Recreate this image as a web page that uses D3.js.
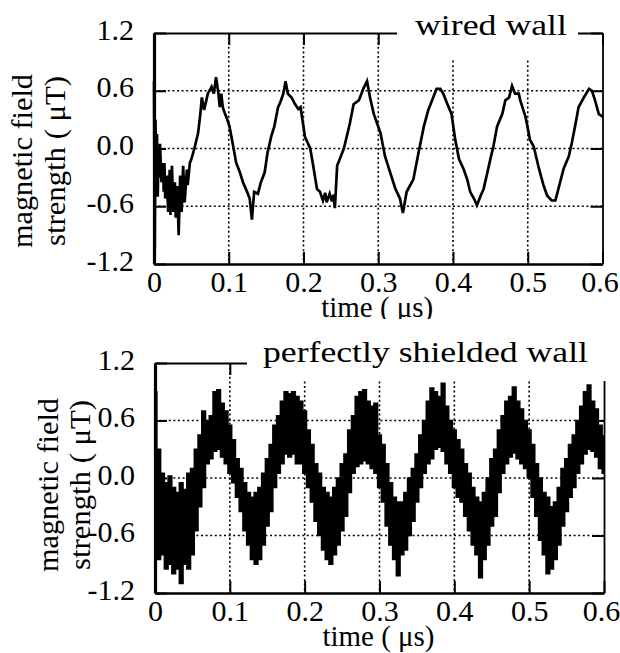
<!DOCTYPE html>
<html>
<head>
<meta charset="utf-8">
<script src="https://cdn.jsdelivr.net/npm/d3@7"></script>
<style>
  body { margin: 0; background: #fff; }
  svg { display: block; }
  text { font-family: "Liberation Serif", "Times New Roman", Times, serif; }
</style>
</head>
<body>
<div id="chart"></div>
<script>
// axis ticks
var xTicks = [0, 0.1, 0.2, 0.3, 0.4, 0.5, 0.6];
var xTickLabels = ["0", "0.1", "0.2", "0.3", "0.4", "0.5", "0.6"];
var yTicks = [-1.2, -0.6, 0, 0.6, 1.2];
var yTickLabels = ["-1.2", "-0.6", "0.0", "0.6", "1.2"];
var panelTitles = ["wired wall", "perfectly shielded wall"];
var yLabelLines = ["magnetic field", "strength ( \u03bcT)"];
var xLabel = "time ( \u03bcs)";

// wired wall trace (time in us, field in uT)
var wiredT = [0, 0.001, 0.002, 0.003, 0.004, 0.005, 0.006, 0.007, 0.008,
  0.010, 0.012, 0.013, 0.014, 0.015, 0.017, 0.019, 0.021, 0.022, 0.024,
  0.026, 0.028, 0.029, 0.031, 0.033, 0.035, 0.037, 0.039, 0.041, 0.044,
  0.045, 0.048, 0.050, 0.054, 0.059, 0.062, 0.064, 0.067, 0.070, 0.072,
  0.077, 0.080, 0.083, 0.086, 0.088, 0.090, 0.092, 0.095, 0.098, 0.101,
  0.106, 0.110, 0.115, 0.119, 0.124, 0.128, 0.131, 0.134, 0.139, 0.143,
  0.148, 0.152, 0.157, 0.161, 0.166, 0.169, 0.173, 0.176, 0.179, 0.184,
  0.188, 0.193,
  0.196, 0.202, 0.209, 0.213, 0.218, 0.222, 0.226, 0.229, 0.231, 0.235,
  0.238, 0.240, 0.242, 0.245, 0.249, 0.254, 0.262, 0.267, 0.274, 0.280,
  0.285, 0.289, 0.294, 0.303, 0.309, 0.316, 0.323, 0.329, 0.333, 0.338,
  0.347, 0.354, 0.361, 0.367, 0.372, 0.378, 0.383, 0.387, 0.392, 0.398,
  0.403, 0.408, 0.414, 0.419, 0.423, 0.428, 0.432, 0.437, 0.441, 0.446,
  0.450, 0.454, 0.459, 0.466, 0.470, 0.475, 0.479, 0.483, 0.488, 0.490,
  0.497, 0.503, 0.508, 0.515, 0.521, 0.526, 0.532, 0.537, 0.541, 0.548,
  0.555, 0.559, 0.564, 0.568, 0.575, 0.582, 0.586, 0.590, 0.595, 0.600];
var wiredV = [0.70, -1.05, 0.30, -0.40, 0.15, -0.50, -0.05, -0.30, 0.05,
  -0.35, -0.15, -0.45, -0.15, -0.52, -0.28, -0.66, -0.22, -0.69, -0.18,
  -0.66, -0.35, -0.72, -0.39, -0.90, -0.28, -0.66, -0.18, -0.56, -0.22,
  -0.38, -0.15, -0.11, 0.00, 0.16, 0.36, 0.53, 0.40, 0.50, 0.57,
  0.64, 0.57, 0.74, 0.58, 0.43, 0.57, 0.43, 0.36, 0.30, 0.23,
  0.02, -0.15, -0.25, -0.35, -0.44, -0.52, -0.74, -0.45, -0.47, -0.35,
  -0.25, -0.04, 0.13, 0.23, 0.43, 0.48, 0.57, 0.70, 0.57, 0.53,
  0.47, 0.41,
  0.43, 0.12, 0.00, -0.18, -0.42, -0.45, -0.54, -0.46, -0.56, -0.47,
  -0.55, -0.48, -0.62, -0.18, -0.10, 0.00, 0.26, 0.46, 0.50, 0.62,
  0.70, 0.53, 0.36, 0.16, -0.08, -0.25, -0.42, -0.52, -0.67, -0.45,
  -0.32, -0.04, 0.23, 0.40, 0.50, 0.62, 0.62, 0.57, 0.47, 0.36,
  0.09, -0.11, -0.21, -0.32, -0.45, -0.52, -0.59, -0.49, -0.42, -0.25,
  -0.11, 0.02, 0.23, 0.36, 0.50, 0.53, 0.65, 0.57, 0.57, 0.50,
  0.33, 0.09, 0.02, -0.21, -0.38, -0.49, -0.54, -0.54, -0.42, -0.21,
  -0.08, 0.06, 0.26, 0.43, 0.53, 0.62, 0.60, 0.50, 0.36, 0.33];

// perfectly shielded wall: noisy band, upper and lower edge
var shieldT = [0.000, 0.005, 0.010, 0.015, 0.020, 0.025, 0.030, 0.035, 0.040, 0.045,
  0.050, 0.055, 0.060, 0.065, 0.070, 0.075, 0.080, 0.085, 0.090, 0.095,
  0.100, 0.105, 0.110, 0.115, 0.120, 0.125, 0.130, 0.135, 0.140, 0.145,
  0.150, 0.155, 0.160, 0.165, 0.170, 0.175, 0.180, 0.185, 0.190, 0.195,
  0.200, 0.205, 0.210, 0.215, 0.220, 0.225, 0.230, 0.235, 0.240, 0.245,
  0.250, 0.255, 0.260, 0.265, 0.270, 0.275, 0.280, 0.285, 0.290, 0.295,
  0.300, 0.305, 0.310, 0.315, 0.320, 0.325, 0.330, 0.335, 0.340, 0.345,
  0.350, 0.355, 0.360, 0.365, 0.370, 0.375, 0.380, 0.385, 0.390, 0.395,
  0.400, 0.405, 0.410, 0.415, 0.420, 0.425, 0.430, 0.435, 0.440, 0.445,
  0.450, 0.455, 0.460, 0.465, 0.470, 0.475, 0.480, 0.485, 0.490, 0.495,
  0.500, 0.505, 0.510, 0.515, 0.520, 0.525, 0.530, 0.535, 0.540, 0.545,
  0.550, 0.555, 0.560, 0.565, 0.570, 0.575, 0.580, 0.585, 0.590, 0.595,
  0.600];
var shieldHi = [0.90, 0.30, 0.05, -0.05, 0.02, -0.10, -0.15, -0.05, -0.12, 0.05,
  0.10, 0.30, 0.45, 0.70, 0.60, 0.65, 0.90, 0.92, 0.78, 0.70,
  0.55, 0.40, 0.20, 0.10, -0.05, -0.15, -0.20, -0.15, -0.10, 0.05,
  0.20, 0.35, 0.55, 0.65, 0.80, 0.90, 0.88, 0.90, 0.85, 0.80,
  0.70, 0.50, 0.35, 0.15, 0.05, -0.10, -0.15, -0.20, -0.10, 0.00,
  0.15, 0.25, 0.50, 0.65, 0.85, 0.90, 0.92, 0.80, 0.75, 0.78,
  0.45, 0.35, 0.15, -0.05, -0.20, -0.25, -0.25, -0.15, 0.00, 0.10,
  0.25, 0.45, 0.60, 0.80, 0.94, 0.90, 0.85, 0.99, 0.75, 0.60,
  0.50, 0.40, 0.30, 0.15, 0.05, -0.10, -0.20, -0.25, -0.15, 0.00,
  0.20, 0.30, 0.50, 0.65, 0.80, 0.85, 0.95, 0.80, 0.72, 0.60,
  0.50, 0.35, 0.15, 0.00, -0.15, -0.20, -0.30, -0.25, -0.10, 0.10,
  0.20, 0.35, 0.45, 0.60, 0.75, 0.90, 0.97, 0.80, 0.72, 0.55,
  0.44];
var shieldLo = [-0.70, -0.85, -0.80, -0.95, -0.90, -1.00, -0.95, -1.10, -0.90, -0.95,
  -0.80, -0.55, -0.30, -0.10, 0.15, 0.20, 0.28, 0.30, 0.22, 0.15,
  0.05, -0.05, -0.20, -0.35, -0.55, -0.70, -0.85, -0.90, -0.85, -0.70,
  -0.50, -0.35, -0.10, 0.05, 0.15, 0.25, 0.22, 0.25, 0.15, 0.15,
  0.05, -0.10, -0.25, -0.45, -0.60, -0.75, -0.85, -0.90, -0.80, -0.70,
  -0.55, -0.40, -0.15, 0.05, 0.12, 0.15, 0.18, 0.15, 0.10, 0.05,
  -0.10, -0.25, -0.50, -0.70, -0.85, -1.02, -0.80, -0.75, -0.60, -0.45,
  -0.25, -0.10, 0.05, 0.15, 0.20, 0.30, 0.32, 0.28, 0.15, 0.05,
  -0.10, -0.20, -0.25, -0.40, -0.55, -0.70, -0.80, -1.04, -0.85, -0.70,
  -0.50, -0.40, -0.15, 0.05, 0.15, 0.22, 0.26, 0.20, 0.15, 0.10,
  0.00, -0.20, -0.40, -0.65, -0.80, -1.00, -0.95, -0.85, -0.70, -0.50,
  -0.35, -0.20, -0.10, 0.05, 0.15, 0.25, 0.30, 0.28, 0.22, 0.10,
  0.05];

var serif = "'Liberation Serif', 'Times New Roman', Times, serif";
var width = 620, height = 653;
var svg = d3.select("#chart").append("svg")
    .attr("width", width)
    .attr("height", height)
    .attr("font-family", serif);

svg.append("defs").append("clipPath")
    .attr("id", "clipTopLabel")
    .append("rect")
    .attr("x", 0).attr("y", 295)
    .attr("width", width).attr("height", 24);

// layout of the two stacked panels
var panels = [
  {title: panelTitles[0], left: 154, right: 602.5, top: 33, bottom: 264,
   box: {x: 397, y: 0, w: 181, h: 58}, titleX: 415, titleY: 35, titleLen: 152,
   yLabX: [32, 65], yLabY: 161, xLabY: 317, clip: "url(#clipTopLabel)"},
  {title: panelTitles[1], left: 155, right: 604, top: 363, bottom: 593,
   box: {x: 247, y: 330, w: 373, h: 51}, titleX: 263, titleY: 362, titleLen: 325,
   yLabX: [58, 90], yLabY: 485, xLabY: 646, clip: null}
];

panels.forEach(function (p, pi) {
    var x = d3.scaleLinear().domain([0, 0.6]).range([p.left, p.right]);
    var y = d3.scaleLinear().domain([-1.2, 1.2]).range([p.bottom, p.top]);
    var g = svg.append("g");

    // dotted grid
    g.selectAll(".gx")
        .data(xTicks.slice(1, -1))
        .enter().append("line")
        .attr("x1", function (d) { return x(d); })
        .attr("x2", function (d) { return x(d); })
        .attr("y1", p.top).attr("y2", p.bottom)
        .attr("stroke", "#000").attr("stroke-width", 1.6)
        .attr("stroke-dasharray", "2,2.6");
    g.selectAll(".gy")
        .data(yTicks.slice(1, -1))
        .enter().append("line")
        .attr("x1", p.left).attr("x2", p.right)
        .attr("y1", function (d) { return y(d); })
        .attr("y2", function (d) { return y(d); })
        .attr("stroke", "#000").attr("stroke-width", 1.6)
        .attr("stroke-dasharray", "2,2.6");

    // trace
    if (pi === 0) {
        var pts = wiredT.map(function (t, i) { return [t, wiredV[i]]; });
        g.append("path")
            .datum(pts)
            .attr("fill", "none")
            .attr("stroke", "#000")
            .attr("stroke-width", 2.7)
            .attr("stroke-linejoin", "miter")
            .attr("d", d3.line()
                .x(function (d) { return x(d[0]); })
                .y(function (d) { return y(d[1]); }));
    } else {
        var band = shieldT.map(function (t, i) { return [t, shieldLo[i], shieldHi[i]]; });
        g.append("path")
            .datum(band)
            .attr("fill", "#000")
            .attr("stroke", "#000")
            .attr("stroke-width", 1.5)
            .attr("d", d3.area()
                .curve(d3.curveStep)
                .x(function (d) { return x(d[0]); })
                .y0(function (d) { return y(d[1]); })
                .y1(function (d) { return y(d[2]); }));
    }

    // frame with inward ticks
    var axB = g.append("g")
        .attr("transform", "translate(0," + p.bottom + ")")
        .call(d3.axisBottom(x).tickValues(xTicks)
            .tickFormat(function (d, i) { return xTickLabels[i]; })
            .tickSize(-12).tickSizeOuter(0).tickPadding(7));
    var axL = g.append("g")
        .attr("transform", "translate(" + p.left + ",0)")
        .call(d3.axisLeft(y).tickValues(yTicks)
            .tickFormat(function (d, i) { return yTickLabels[i]; })
            .tickSize(-12).tickSizeOuter(0).tickPadding(20));
    var axT = g.append("g")
        .attr("transform", "translate(0," + p.top + ")")
        .call(d3.axisTop(x).tickValues(xTicks).tickFormat("")
            .tickSize(-12).tickSizeOuter(0));
    var axR = g.append("g")
        .attr("transform", "translate(" + p.right + ",0)")
        .call(d3.axisRight(y).tickValues(yTicks).tickFormat("")
            .tickSize(-12).tickSizeOuter(0));

    [axB, axL, axT, axR].forEach(function (a) {
        a.attr("font-family", serif).attr("font-size", null);
        a.selectAll(".tick line").attr("stroke-width", 2);
        a.selectAll("text").attr("font-size", 30).attr("fill", "#000");
    });
    axB.select(".domain").attr("stroke-width", 2.6);
    axL.select(".domain").attr("stroke-width", 3.2);
    axT.select(".domain").attr("stroke-width", 2);
    axR.select(".domain").attr("stroke-width", 1.8);
    axL.selectAll("text").attr("dy", "0.2em");
    // the last x label sits against the page edge
    axB.selectAll(".tick text").filter(function (d) { return d === 0.6; })
        .attr("dx", -3);

    // title sits in a white box that cuts the frame
    g.append("rect")
        .attr("x", p.box.x).attr("y", p.box.y)
        .attr("width", p.box.w).attr("height", p.box.h)
        .attr("fill", "#fff");
    g.append("text")
        .attr("x", p.titleX).attr("y", p.titleY)
        .attr("font-size", 30)
        .attr("textLength", p.titleLen)
        .attr("lengthAdjust", "spacingAndGlyphs")
        .text(p.title);

    // axis titles
    yLabelLines.forEach(function (line, li) {
        g.append("text")
            .attr("transform", "translate(" + p.yLabX[li] + "," + p.yLabY + ") rotate(-90)")
            .attr("text-anchor", "middle")
            .attr("font-size", 30)
            .attr("textLength", li === 0 ? 174 : 170)
            .attr("lengthAdjust", "spacingAndGlyphs")
            .text(line);
    });
    g.append("text")
        .attr("x", x(0.3) - 1).attr("y", p.xLabY)
        .attr("text-anchor", "middle")
        .attr("font-size", 30)
        .attr("textLength", 112)
        .attr("lengthAdjust", "spacingAndGlyphs")
        .attr("clip-path", p.clip)
        .text(xLabel);
});
</script>
</body>
</html>
